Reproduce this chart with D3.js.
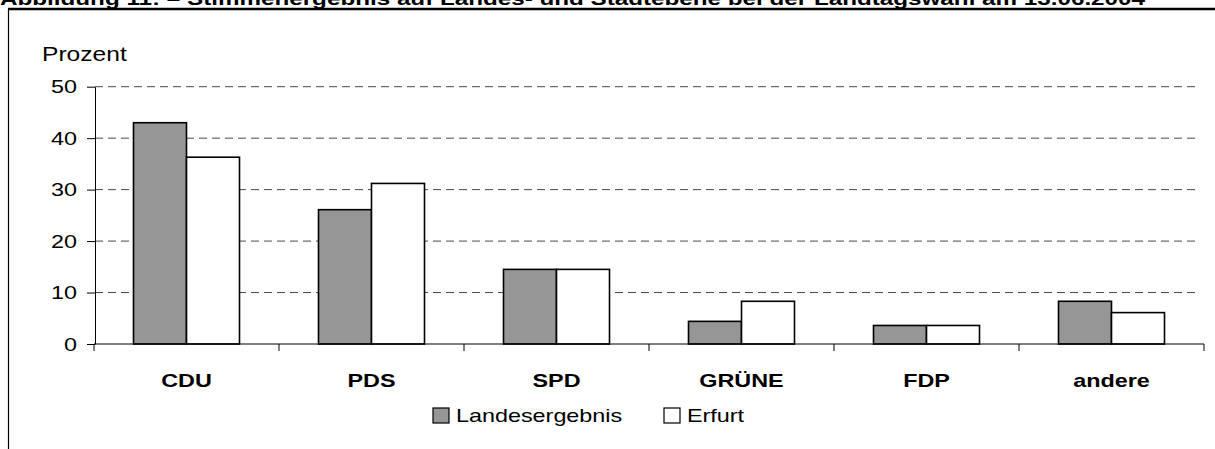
<!DOCTYPE html>
<html>
<head>
<meta charset="utf-8">
<script src="https://cdn.jsdelivr.net/npm/d3@7"></script>
<style>
  html, body { margin: 0; padding: 0; background: #fff; }
  svg { display: block; font-family: "Liberation Sans", Arial, sans-serif; }
</style>
</head>
<body>
<svg width="1215" height="449"></svg>
<script>
// chart values
const parties = ['CDU', 'PDS', 'SPD', 'GRÜNE', 'FDP', 'andere'];
const seriesNames = ['Landesergebnis', 'Erfurt'];
const landesergebnis = [43.0, 26.1, 14.5, 4.4, 3.6, 8.3];
const erfurt = [36.3, 31.2, 14.5, 8.3, 3.6, 6.1];
const yTicks = [0, 10, 20, 30, 40, 50];
const title = 'Abbildung 11:   –  Stimmenergebnis auf Landes- und Stadtebene bei der Landtagswahl am 13.06.2004';
const yLabel = 'Prozent';

const colors = { Landesergebnis: '#969696', Erfurt: '#ffffff' };
// the original picture is stretched sideways, so text is too
const SX = 1.23;

const svg = d3.select('svg');

const x0 = d3.scaleBand()
  .domain(parties)
  .range([94, 1204])
  .paddingInner(0.427)
  .paddingOuter(0.2135);
const x1 = d3.scaleBand()
  .domain(seriesNames)
  .range([0, x0.bandwidth()]);
const y = d3.scaleLinear()
  .domain([0, 50])
  .range([344, 86.7]);

function stretchedText(sel, x, yy) {
  return sel.append('text')
    .attr('transform', `translate(${x},${yy}) scale(${SX},1)`);
}

// title, cut at the top edge, and the frame
svg.append('text')
  .attr('x', 0)
  .attr('y', 5)
  .attr('font-size', 19)
  .attr('font-weight', 'bold')
  .attr('textLength', 1145)
  .attr('lengthAdjust', 'spacingAndGlyphs')
  .text(title);
svg.append('line')
  .attr('x1', 8).attr('x2', 1215)
  .attr('y1', 9).attr('y2', 9)
  .attr('stroke', '#000')
  .attr('stroke-width', 2.5);
svg.append('line')
  .attr('x1', 8.5).attr('x2', 8.5)
  .attr('y1', 9).attr('y2', 449)
  .attr('stroke', '#000')
  .attr('stroke-width', 1.2);

// dashed gridlines
svg.append('g')
  .selectAll('line')
  .data(yTicks.filter(d => d > 0))
  .enter()
  .append('line')
  .attr('x1', 95)
  .attr('x2', 1200)
  .attr('y1', d => y(d))
  .attr('y2', d => y(d))
  .attr('stroke', '#4a4a4a')
  .attr('stroke-width', 1)
  .attr('stroke-dasharray', '8,5');

// bars
const rows = parties.map((p, i) => ({
  party: p,
  values: [
    { name: 'Landesergebnis', value: landesergebnis[i] },
    { name: 'Erfurt', value: erfurt[i] },
  ],
}));

svg.append('g')
  .selectAll('g')
  .data(rows)
  .enter()
  .append('g')
  .attr('transform', d => `translate(${x0(d.party)},0)`)
  .selectAll('rect')
  .data(d => d.values)
  .enter()
  .append('rect')
  .attr('x', d => x1(d.name))
  .attr('y', d => y(d.value))
  .attr('width', x1.bandwidth())
  .attr('height', d => y(0) - y(d.value))
  .attr('fill', d => colors[d.name])
  .attr('stroke', '#000')
  .attr('stroke-width', 1.6);

// y axis
const yAxis = svg.append('g')
  .attr('transform', 'translate(95,0)')
  .call(d3.axisLeft(y).tickValues(yTicks).tickSize(8).tickSizeOuter(0));
yAxis.select('.domain').attr('stroke', '#000');
yAxis.selectAll('.tick line').attr('stroke', '#000');
yAxis.selectAll('.tick text')
  .attr('x', -18 / SX)
  .attr('transform', `scale(${SX},1)`)
  .attr('font-size', 19)
  .attr('font-family', '"Liberation Sans", Arial, sans-serif')
  .attr('fill', '#000');

// x axis line with ticks at the category boundaries
svg.append('line')
  .attr('x1', x0.range()[0]).attr('x2', x0.range()[1])
  .attr('y1', y(0)).attr('y2', y(0))
  .attr('stroke', '#000')
  .attr('stroke-width', 1.2);
svg.append('g')
  .selectAll('line')
  .data(d3.range(parties.length + 1))
  .enter()
  .append('line')
  .attr('x1', i => x0.range()[0] + i * x0.step())
  .attr('x2', i => x0.range()[0] + i * x0.step())
  .attr('y1', y(0))
  .attr('y2', y(0) + 7)
  .attr('stroke', '#000');

// category labels
parties.forEach((p) => {
  stretchedText(svg, x0(p) + x0.bandwidth() / 2, 387)
    .attr('text-anchor', 'middle')
    .attr('font-size', 19)
    .attr('font-weight', 'bold')
    .text(p);
});

// axis title
stretchedText(svg, 42, 60.5)
  .attr('font-size', 20)
  .text(yLabel);

// legend
const legendX = [433, 664];
seriesNames.forEach((name, i) => {
  svg.append('rect')
    .attr('x', legendX[i])
    .attr('y', 408)
    .attr('width', 16)
    .attr('height', 15)
    .attr('fill', colors[name])
    .attr('stroke', '#000')
    .attr('stroke-width', 1.2);
  stretchedText(svg, legendX[i] + 23, 422)
    .attr('font-size', 19)
    .text(name);
});
</script>
</body>
</html>
